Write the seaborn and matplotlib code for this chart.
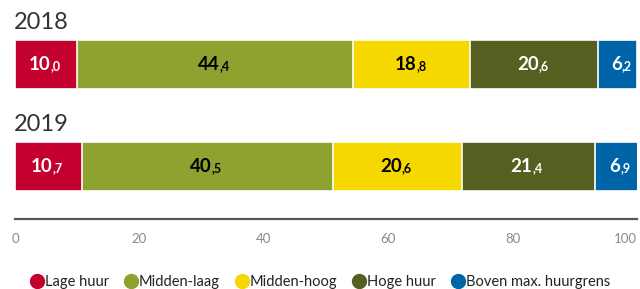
import pandas as pd
import matplotlib.pyplot as plt
import seaborn as sns
from matplotlib.lines import Line2D

# === DATA ===
years = ["2018", "2019"]
categories = ["Lage huur", "Midden-laag", "Midden-hoog", "Hoge huur", "Boven max. huurgrens"]
values_2018 = [10.0, 44.4, 18.8, 20.6, 6.2]
values_2019 = [10.7, 40.5, 20.6, 21.4, 6.9]
colors = ["#C4002F", "#8DA22F", "#F5D800", "#556020", "#0064A8"]
label_colors = ["white", "black", "black", "white", "white"]
ticks = [0, 20, 40, 60, 80, 100]

# === BUILD TABLE ===
rows = []
for year, vals in zip(years, [values_2018, values_2019]):
    cum = 0
    for cat, v in zip(categories, vals):
        cum += v
        rows.append({"year": year, "cat": cat, "value": v, "cum": cum})
df = pd.DataFrame(rows)

sns.set_theme(style="white")
plt.rcParams["font.family"] = ["Lato", "DejaVu Sans"]

fig = plt.figure(figsize=(6.4, 2.89), dpi=100)
ax = fig.add_axes([15 / 640, 1 - 219 / 289, 622 / 640, 179 / 289])

# stacked bars: draw cumulative totals from largest to smallest
for cat, col in reversed(list(zip(categories, colors))):
    sub = df[df["cat"] == cat]
    sns.barplot(data=sub, x="cum", y="year", order=years, orient="h",
                color=col, width=0.48, edgecolor="white", linewidth=1.2,
                saturation=1, ax=ax)

# value labels with small decimal part
for _, r in df.iterrows():
    yi = years.index(r["year"])
    xc = r["cum"] - r["value"] / 2
    ip, dp = f"{r['value']:.1f}".split(".")
    tc = label_colors[categories.index(r["cat"])]
    ax.annotate(ip, xy=(xc, yi), xytext=(3, 0), textcoords="offset points",
                ha="right", va="center", fontsize=13.5, fontweight="bold", color=tc)
    ax.annotate("," + dp, xy=(xc, yi), xytext=(3.0, -1.5), textcoords="offset points",
                ha="left", va="center", fontsize=9, fontweight="bold", color=tc)

ax.set_xlim(0, 100)
ax.set_ylim(1.515, -0.24)
ax.set_xticks(ticks)
ax.set_xticklabels([str(t) for t in ticks], fontsize=9.5, color="#8a8a8a")
ax.get_xticklabels()[-1].set_horizontalalignment("right")
ax.set_yticks([])
ax.set_xlabel("")
ax.set_ylabel("")
for s in ["top", "right", "left"]:
    ax.spines[s].set_visible(False)
ax.spines["bottom"].set_color("#555555")
ax.spines["bottom"].set_linewidth(1.6)
ax.tick_params(axis="x", length=0, pad=10)

# year titles
for i, year in enumerate(years):
    ax.annotate(year, xy=(0, i), xytext=(-1, 30.5), textcoords="offset points",
                ha="left", va="center", fontsize=17, color="#333333")

# legend
handles = [Line2D([0], [0], marker="o", linestyle="", markersize=10,
                  markerfacecolor=c, markeredgecolor=c) for c in colors]
fig.legend(handles, categories, loc="center", bbox_to_anchor=(0.5, 1 - 282 / 289),
           ncol=5, frameon=False, fontsize=10.5, handletextpad=0.05,
           columnspacing=1.0, handlelength=1.0, labelcolor="#222222")

fig.savefig("out.png", dpi=100)
